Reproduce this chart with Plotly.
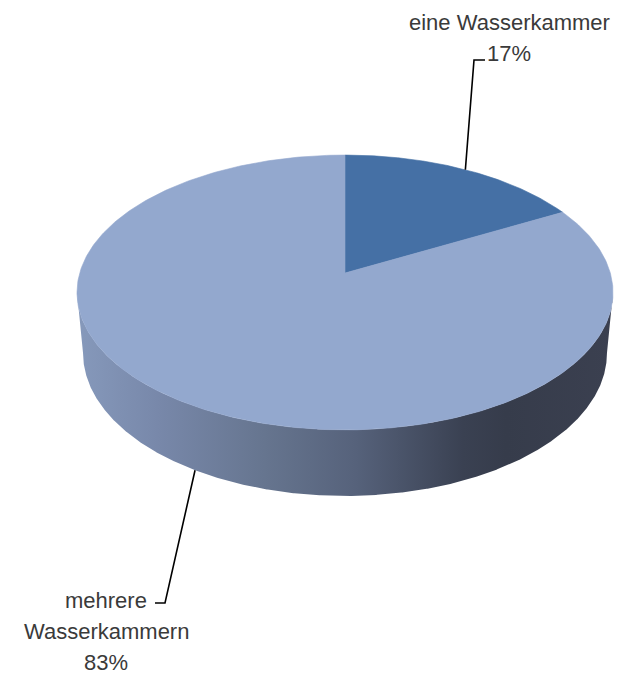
import math
import numpy as np
import plotly.graph_objects as go

# Data
categories = ["eine Wasserkammer", "mehrere Wasserkammern"]
values = [17, 83]
label_lines = [["eine Wasserkammer", "17%"], ["mehrere", "Wasserkammern", "83%"]]

# Colours
slice_colors = ["#4570a5", "#93a8ce"]
side_stops = [[0.0, "#8699bb"], [0.15, "#7888aa"], [0.35, "#66758f"],
              [0.52, "#56627b"], [0.72, "#3a4152"], [0.80, "#363c4b"], [1.0, "#3b4050"]]
text_color = "#3a3a3a"

# Perspective camera for the 3D pie (screen units = pixels)
W, H = 621, 675
CX, CY = 345.0, 273.0          # projected pie centre
FOCAL = 1613.0
CAM_DIST = 6.08
TILT = math.radians(30.5)
THICK = 0.27
S, C = math.sin(TILT), math.cos(TILT)


def project(frac, z=0.0):
    """Map a fraction of the pie (clockwise from 12 o'clock) and height z to screen."""
    t = 2 * np.pi * np.asarray(frac, dtype=float)
    X, Y = np.sin(t), np.cos(t)
    depth = CAM_DIST + Y * C - z * S
    sx = CX + FOCAL * X / depth
    sy = CY - FOCAL * (Y * S + z * C) / depth
    return sx, sy


def apex(z=0.0):
    depth = CAM_DIST - z * S
    return CX, CY - FOCAL * (z * C) / depth


fig = go.Figure()

total = float(sum(values))
bounds = np.concatenate([[0.0], np.cumsum(values) / total])

# Side wall (front half of the cylinder), shaded left to right
ring = np.linspace(0.0, 1.0, 2001)[:-1]
tx, ty = project(ring, 0.0)
bx, by = project(ring, -THICK)
i_r, i_l = int(np.argmax(tx)), int(np.argmin(tx))
j_r, j_l = int(np.argmax(bx)), int(np.argmin(bx))
side_x = np.concatenate([tx[i_r:i_l + 1], bx[j_r:j_l + 1][::-1]])
side_y = np.concatenate([ty[i_r:i_l + 1], by[j_r:j_l + 1][::-1]])
fig.add_trace(go.Scatter(
    x=side_x, y=side_y, mode="lines", fill="toself",
    line=dict(width=0), hoverinfo="skip", showlegend=False,
    fillgradient=dict(type="horizontal", colorscale=side_stops,
                      start=float(tx.min()), stop=float(tx.max())),
))

# Top faces of the slices
for k, cat in enumerate(categories):
    f = np.linspace(bounds[k], bounds[k + 1], 400)
    ax, ay = apex(0.0)
    px, py = project(f, 0.0)
    fig.add_trace(go.Scatter(
        x=np.concatenate([[ax], px, [ax]]), y=np.concatenate([[ay], py, [ay]]),
        mode="lines", fill="toself", fillcolor=slice_colors[k],
        line=dict(width=0.6, color=slice_colors[k]),
        name=cat, hoverinfo="name", showlegend=False,
    ))

# Data labels with leader lines
label_pos = [  # elbow point, line end x, text centre x, first line centre y
    dict(ex=474, ey=60, endx=485, tx=509, ty=22, z=0.0),
    dict(ex=165, ey=603, endx=155, tx=106, ty=600, z=-THICK),
]
line_gap = 31
for k, cat in enumerate(categories):
    lp = label_pos[k]
    mid = (bounds[k] + bounds[k + 1]) / 2
    sx, sy = project(mid, lp["z"])
    fig.add_trace(go.Scatter(
        x=[float(sx), lp["ex"], lp["endx"]], y=[float(sy), lp["ey"], lp["ey"]],
        mode="lines", line=dict(color="#000000", width=1.6),
        hoverinfo="skip", showlegend=False,
    ))
    for n, txt in enumerate(label_lines[k]):
        fig.add_annotation(
            x=lp["tx"], y=lp["ty"] + n * line_gap, text=txt, showarrow=False,
            xanchor="center", yanchor="middle",
            font=dict(family="Liberation Sans, Arial, sans-serif", size=22, color=text_color),
        )

fig.update_layout(
    width=W, height=H, margin=dict(l=0, r=0, t=0, b=0),
    paper_bgcolor="white", plot_bgcolor="white",
    xaxis=dict(range=[0, W], visible=False, fixedrange=True),
    yaxis=dict(range=[H, 0], visible=False, fixedrange=True),
)

fig.write_html("out.html")
